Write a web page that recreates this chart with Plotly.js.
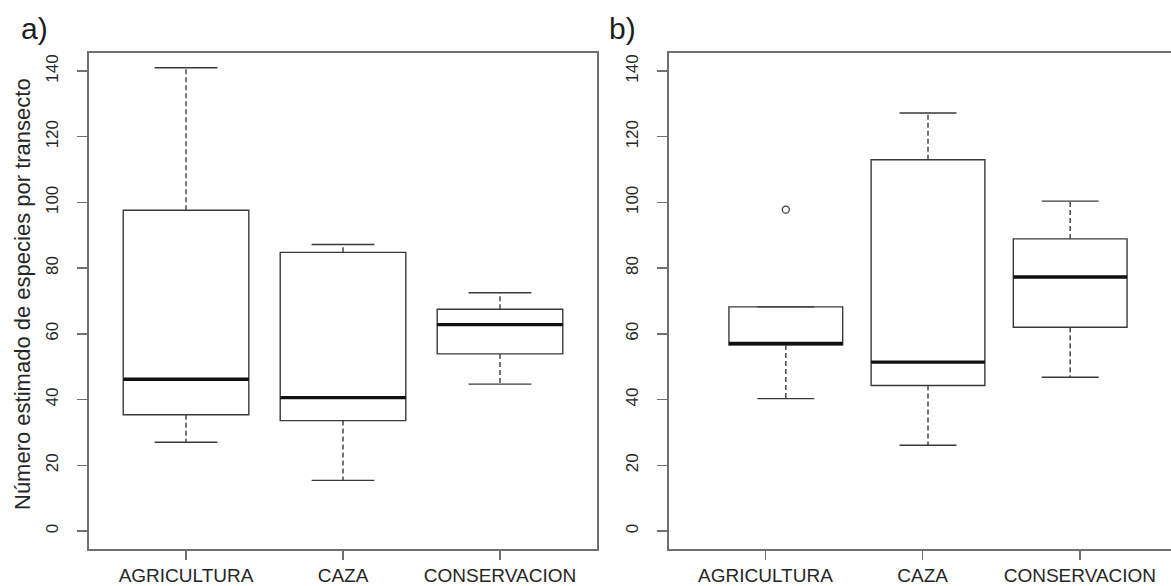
<!DOCTYPE html>
<html>
<head>
<meta charset="utf-8">
<script src="https://cdn.plot.ly/plotly-3.0.1.min.js"></script>
<style>
html,body{margin:0;padding:0;background:#fff;}
#chart{width:1171px;height:586px;}
</style>
</head>
<body>
<div id="chart"></div>
<script>
// ---- data ----
var categories = ['AGRICULTURA', 'CAZA', 'CONSERVACION'];
var yTicks = [0, 20, 40, 60, 80, 100, 120, 140];

// panel a)
var aLower  = [27.0, 15.4, 44.7];
var aQ1     = [35.4, 33.6, 53.9];
var aMedian = [46.2, 40.6, 62.8];
var aQ3     = [97.6, 84.8, 67.5];
var aUpper  = [141.0, 87.2, 72.5];

// panel b)
var bLower  = [40.3, 26.1, 46.8];
var bQ1     = [56.6, 44.3, 62.0];
var bMedian = [57.1, 51.4, 77.3];
var bQ3     = [68.2, 113.0, 88.9];
var bUpper  = [68.2, 127.2, 100.4];
var bOutlierCat = ['AGRICULTURA'];
var bOutlierVal = [97.8];

var yTitle = 'Número estimado de especies por transecto';
var panelLabels = ['a)', 'b)'];

// ---- styles ----
var FONT = 'Liberation Sans, Arial, sans-serif';
var NARROW = 'Liberation Sans Narrow, Arial Narrow, Liberation Sans, sans-serif';
var BOXCOL = '#3a3a3a';
var FRAMECOL = '#707070';
var TXT = '#262626';

function panelTraces(xa, ya, lower, q1, med, q3, upper) {
  var tr = [];
  tr.push({type: 'box', x: categories, q1: q1, median: med, q3: q3,
    lowerfence: q1, upperfence: q3, width: 0.8, whiskerwidth: 0,
    fillcolor: '#ffffff', line: {color: BOXCOL, width: 1.4},
    xaxis: xa, yaxis: ya, hoverinfo: 'skip', showlegend: false, boxpoints: false});
  var wx = [], wy = [];
  categories.forEach(function(c, i) {
    wx.push(c, c, null, c, c, null);
    wy.push(q3[i], upper[i], null, q1[i], lower[i], null);
  });
  tr.push({type: 'scatter', mode: 'lines', x: wx, y: wy, xaxis: xa, yaxis: ya,
    line: {color: BOXCOL, width: 1.4, dash: '5px,3px'}, hoverinfo: 'skip', showlegend: false});
  [upper, lower].forEach(function(arr) {
    tr.push({type: 'box', x: categories, q1: arr, median: arr, q3: arr, lowerfence: arr, upperfence: arr,
      width: 0.4, whiskerwidth: 0, fillcolor: 'rgba(0,0,0,0)', line: {color: BOXCOL, width: 1.4},
      xaxis: xa, yaxis: ya, hoverinfo: 'skip', showlegend: false, boxpoints: false});
  });
  tr.push({type: 'box', x: categories, q1: med, median: med, q3: med, lowerfence: med, upperfence: med,
    width: 0.8, whiskerwidth: 0, fillcolor: 'rgba(0,0,0,0)', line: {color: '#111111', width: 3.4},
    xaxis: xa, yaxis: ya, hoverinfo: 'skip', showlegend: false, boxpoints: false});
  return tr;
}

var traces = [];
traces = traces.concat(panelTraces('x', 'y', aLower, aQ1, aMedian, aQ3, aUpper));
// empty trace so that the x2/y2 frame (tick axis of panel b) is created
traces.push({type: 'scatter', mode: 'markers', x: [], y: [], xaxis: 'x2', yaxis: 'y2',
  hoverinfo: 'skip', showlegend: false});
traces = traces.concat(panelTraces('x3', 'y2', bLower, bQ1, bMedian, bQ3, bUpper));
traces.push({type: 'scatter', mode: 'markers', x: bOutlierCat, y: bOutlierVal, xaxis: 'x3', yaxis: 'y2',
  marker: {symbol: 'circle-open', size: 7, color: BOXCOL, line: {width: 1.3, color: BOXCOL}},
  hoverinfo: 'skip', showlegend: false});

var W = 1171, H = 586;
var yDomain = [1 - 549.4 / H, 1 - 52.6 / H];
var x2Domain = [668.5 / W, 1];

function yAxis(anchor, mirror) {
  return {domain: yDomain, anchor: anchor, range: [-5.6, 145.6], tickvals: yTicks,
    ticktext: yTicks.map(String), tickangle: -90, ticks: 'outside', ticklen: 10, tickwidth: 1.3,
    tickcolor: FRAMECOL, showline: true, linecolor: FRAMECOL, linewidth: 1.8, mirror: mirror,
    showgrid: false, zeroline: false, automargin: false, ticklabelstandoff: 12,
    tickfont: {family: FONT, size: 17, color: TXT}, fixedrange: true};
}
function xTickFont() { return {family: FONT, size: 19, color: TXT}; }

var layout = {
  width: W, height: H,
  margin: {l: 0, r: 0, t: 0, b: 0},
  paper_bgcolor: '#ffffff', plot_bgcolor: '#ffffff',
  showlegend: false, boxmode: 'overlay',
  xaxis: {domain: [88.7 / W, 597.3 / W], anchor: 'y', type: 'category', range: [-0.62, 2.62],
    categoryorder: 'array', categoryarray: categories,
    ticks: 'outside', ticklen: 9, tickwidth: 1.3, tickcolor: FRAMECOL,
    showline: true, linecolor: FRAMECOL, linewidth: 1.8, mirror: true, showgrid: false, zeroline: false,
    automargin: false, ticklabelstandoff: -1, tickfont: xTickFont(), fixedrange: true},
  yaxis: yAxis('x', true),
  xaxis2: {domain: x2Domain, anchor: 'y2', range: [-0.6164, 2.5795],
    tickvals: [0, 1, 2], ticktext: categories,
    ticks: 'outside', ticklen: 9, tickwidth: 1.3, tickcolor: FRAMECOL,
    showline: true, linecolor: FRAMECOL, linewidth: 1.8, mirror: true, showgrid: false, zeroline: false,
    automargin: false, ticklabelstandoff: -1, tickfont: xTickFont(), fixedrange: true},
  xaxis3: {overlaying: 'x2', anchor: 'y2', domain: x2Domain, type: 'category', range: [-0.825, 2.709],
    categoryorder: 'array', categoryarray: categories, visible: false, fixedrange: true},
  yaxis2: yAxis('x2', false),
  annotations: [
    {text: panelLabels[0], xref: 'paper', yref: 'paper', x: 34 / W, y: 1 - 29 / H, xanchor: 'center', yanchor: 'middle',
      showarrow: false, font: {family: NARROW, size: 30, color: '#1e1e1e'}},
    {text: panelLabels[1], xref: 'paper', yref: 'paper', x: 622 / W, y: 1 - 29 / H, xanchor: 'center', yanchor: 'middle',
      showarrow: false, font: {family: NARROW, size: 30, color: '#1e1e1e'}},
    {text: yTitle, xref: 'paper', yref: 'paper', x: 22 / W, y: 1 - 294 / H, xanchor: 'center', yanchor: 'middle',
      textangle: -90, showarrow: false, font: {family: FONT, size: 22, color: TXT}}
  ]
};

Plotly.newPlot('chart', traces, layout, {staticPlot: true, displayModeBar: false});
</script>
</body>
</html>
